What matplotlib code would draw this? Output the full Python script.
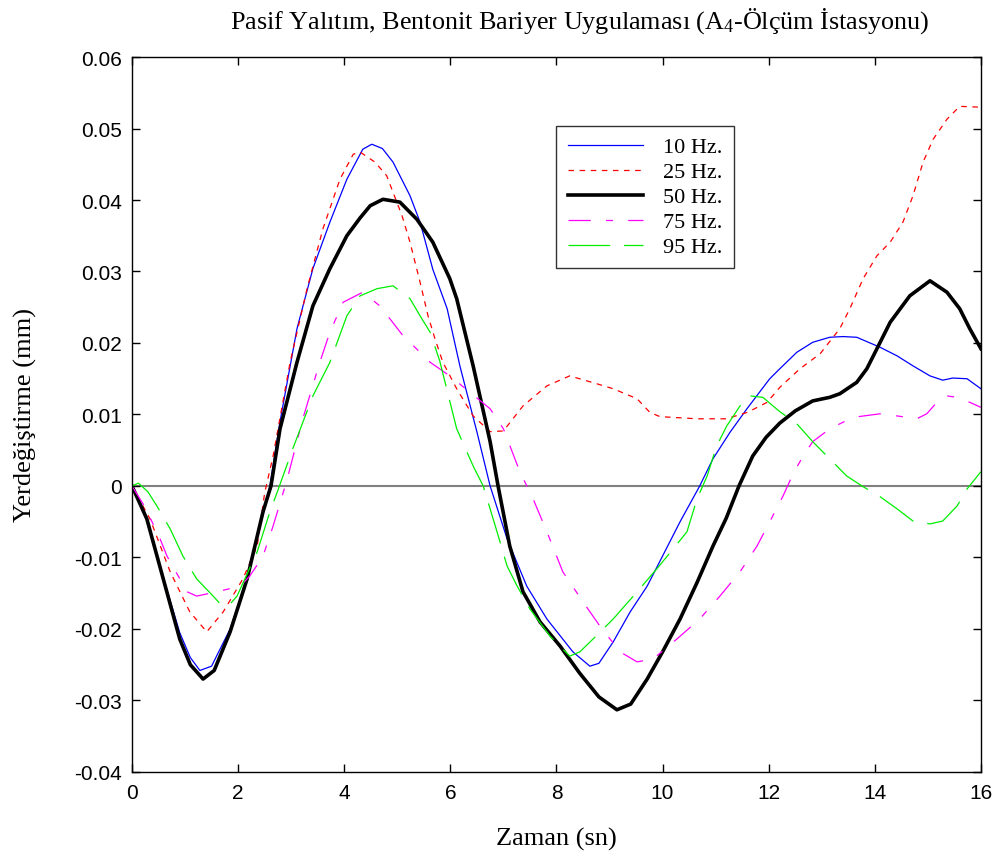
import numpy as np
import matplotlib
matplotlib.use('Agg')
import matplotlib.pyplot as plt

# time (s) / displacement (mm), one pair per frequency
t10 = [0, 0.28, 0.59, 0.9, 1.1, 1.28, 1.5, 1.85, 2.17, 2.47, 2.6, 2.79, 3.11, 3.41, 3.73, 4.05, 4.35,
       4.52, 4.72, 4.92, 5.24, 5.43, 5.67, 5.94, 6.18, 6.5, 6.75, 7.07, 7.44, 7.82, 8.31, 8.63, 8.8,
       9.07, 9.39, 9.71, 10.0, 10.33, 10.7, 10.95, 11.27, 11.59, 12.02, 12.21, 12.53, 12.83, 13.15,
       13.4, 13.66, 14.1, 14.42, 14.72, 15.04, 15.28, 15.47, 15.74, 16.0]
y10 = [0, -0.0046, -0.0128, -0.0205, -0.0240, -0.0258, -0.0252, -0.0200, -0.0128, -0.004, 0, 0.009,
       0.022, 0.0304, 0.0369, 0.0429, 0.0471, 0.0478, 0.0472, 0.0453, 0.0406, 0.0369, 0.0303, 0.0248,
       0.0168, 0.0076, 0, -0.0074, -0.014, -0.0186, -0.0232, -0.0252, -0.0248, -0.0218, -0.0176,
       -0.014, -0.0098, -0.005, 0, 0.0038, 0.0075, 0.0108, 0.015, 0.0164, 0.0187, 0.0201, 0.0208,
       0.0209, 0.0208, 0.0194, 0.0182, 0.0168, 0.0154, 0.0148, 0.0151, 0.015, 0.0136]

t25 = [0, 0.34, 0.72, 1.09, 1.41, 1.72, 2.09, 2.36, 2.5, 2.66, 2.98, 3.3, 3.6, 3.92, 4.17, 4.3, 4.58,
       4.8, 5.09, 5.24, 5.43, 5.58, 5.71, 5.86, 6.12, 6.43, 6.75, 7.0, 7.37, 7.82, 8.25, 8.76, 9.07,
       9.52, 9.76, 9.95, 10.65, 11.2, 11.6, 11.97, 12.21, 12.59, 12.97, 13.34, 13.53, 13.78, 14.04,
       14.29, 14.53, 14.72, 14.91, 15.1, 15.36, 15.6, 15.92, 16.0]
y25 = [0, -0.0046, -0.012, -0.0176, -0.0204, -0.0176, -0.013, -0.0084, -0.001, 0.0042, 0.0173,
       0.0276, 0.036, 0.0429, 0.0464, 0.0467, 0.0453, 0.0434, 0.0378, 0.0341, 0.0285, 0.0238, 0.0206,
       0.0173, 0.0136, 0.0098, 0.0076, 0.0077, 0.0112, 0.014, 0.0154, 0.0143, 0.0136, 0.0122, 0.0103,
       0.0097, 0.0094, 0.0094, 0.0103, 0.0117, 0.0138, 0.0164, 0.0185, 0.022, 0.0248, 0.029, 0.0322,
       0.0341, 0.0369, 0.0406, 0.0453, 0.0485, 0.0513, 0.0531, 0.053, 0.053]

t50 = [0, 0.28, 0.59, 0.9, 1.1, 1.34, 1.55, 1.85, 2.17, 2.47, 2.62, 2.79, 3.11, 3.41, 3.73, 4.05, 4.3,
       4.49, 4.73, 5.05, 5.37, 5.67, 5.99, 6.12, 6.43, 6.75, 6.9, 7.12, 7.37, 7.69, 8.07, 8.44, 8.8,
       9.14, 9.4, 9.71, 10.0, 10.33, 10.65, 10.95, 11.2, 11.44, 11.7, 11.95, 12.21, 12.5, 12.83, 13.15,
       13.34, 13.66, 13.85, 14.04, 14.29, 14.66, 15.04, 15.36, 15.6, 15.79, 16.0]
y50 = [0, -0.0046, -0.013, -0.0214, -0.0250, -0.027, -0.0258, -0.0204, -0.013, -0.0036, 0, 0.008,
       0.0173, 0.0252, 0.0304, 0.035, 0.0375, 0.0392, 0.0401, 0.0397, 0.0373, 0.0341, 0.029, 0.0262,
       0.0168, 0.0062, 0, -0.0084, -0.0148, -0.019, -0.0224, -0.0262, -0.0295, -0.0313, -0.0305,
       -0.027, -0.0232, -0.0186, -0.0135, -0.0084, -0.0045, 0, 0.0042, 0.0068, 0.0088, 0.0105, 0.0119,
       0.0124, 0.0129, 0.0145, 0.0164, 0.0192, 0.0229, 0.0266, 0.0287, 0.0271, 0.0248, 0.022, 0.0192]

t75 = [0, 0.25, 0.53, 0.66, 1.04, 1.22, 1.6, 2.04, 2.22, 2.47, 2.66, 2.92, 3.22, 3.54, 3.73, 3.98,
       4.35, 4.67, 4.86, 5.11, 5.43, 5.62, 5.99, 6.37, 6.75, 7.0, 7.31, 7.56, 7.82, 8.12, 8.5, 8.82,
       9.2, 9.52, 9.82, 10.27, 10.7, 11.08, 11.46, 11.78, 12.02, 12.27, 12.46, 12.65, 12.83, 13.15,
       13.59, 14.1, 14.42, 14.79, 14.98, 15.17, 15.36, 15.55, 15.79, 16.0]
y75 = [0, -0.003, -0.0074, -0.0098, -0.0148, -0.0154, -0.0148, -0.014, -0.0126, -0.0098, -0.0056,
       0.0008, 0.0094, 0.0173, 0.0215, 0.0257, 0.0271, 0.0252, 0.0234, 0.021, 0.0187, 0.0173, 0.0154,
       0.0131, 0.0108, 0.008, 0.002, -0.0018, -0.0064, -0.012, -0.0162, -0.0196, -0.0232, -0.0246,
       -0.0242, -0.0214, -0.0186, -0.0154, -0.012, -0.0084, -0.005, -0.0014, 0.0017, 0.0042, 0.0062,
       0.008, 0.0096, 0.0101, 0.0098, 0.0094, 0.0101, 0.0117, 0.0126, 0.0124, 0.0117, 0.011]

t95 = [0, 0.12, 0.3, 0.47, 0.72, 0.96, 1.22, 1.53, 1.7, 1.85, 1.98, 2.36, 2.6, 2.76, 3.03, 3.41, 3.73,
       4.05, 4.3, 4.62, 4.92, 5.24, 5.43, 5.62, 5.8, 6.12, 6.43, 6.62, 6.88, 7.07, 7.26, 7.5, 7.88,
       8.25, 8.44, 8.69, 9.07, 9.52, 9.89, 10.2, 10.46, 10.65, 10.84, 11.02, 11.21, 11.46, 11.65,
       11.89, 12.21, 12.53, 12.83, 13.15, 13.47, 13.78, 14.1, 14.42, 14.72, 15.04, 15.28, 15.55,
       15.74, 16.0]
y95 = [0, 0.0004, -0.0008, -0.0028, -0.006, -0.0098, -0.013, -0.0154, -0.0168, -0.0165, -0.0154,
       -0.0092, -0.0036, -0.0004, 0.0052, 0.0126, 0.0173, 0.0238, 0.0266, 0.0276, 0.028, 0.0262,
       0.0238, 0.0215, 0.0175, 0.008, 0.0028, 0, -0.0064, -0.0112, -0.014, -0.0172, -0.021, -0.0238,
       -0.0232, -0.0214, -0.0186, -0.0148, -0.0116, -0.0088, -0.0064, -0.0018, 0.0014, 0.0056, 0.0084,
       0.0112, 0.0126, 0.0124, 0.0104, 0.0087, 0.0062, 0.0038, 0.0014, -0.0001, -0.0015, -0.0032,
       -0.0049, -0.0053, -0.0049, -0.0028, -0.0004, 0.002]

labels = ['10 Hz.', '25 Hz.', '50 Hz.', '75 Hz.', '95 Hz.']

plt.rcParams['lines.scale_dashes'] = False
plt.rcParams['mathtext.default'] = 'regular'
serif = ['Liberation Serif', 'DejaVu Serif']
sans = ['Liberation Sans', 'DejaVu Sans']

fig = plt.figure(figsize=(9.99, 8.53), dpi=100)
ax = fig.add_axes([0.1321, 0.0938, 0.8498, 0.8382])

ax.axhline(0, color='#808080', lw=1.5, zorder=1)

ax.plot(t10, y10, color='blue', lw=0.9, label=labels[0])
ax.plot(t25, y25, color='red', lw=0.9, dashes=(4, 4), label=labels[1])
ax.plot(t50, y50, color='black', lw=2.6, label=labels[2])
ax.plot(t75, y75, color='magenta', lw=0.9, dashes=(16, 11, 5, 11), label=labels[3])
ax.plot(t95, y95, color='#00ee00', lw=0.9, dashes=(30, 10), label=labels[4])

ax.set_xlim(0, 16)
ax.set_ylim(-0.04, 0.06)
ax.set_xticks(np.arange(0, 17, 2))
ax.set_yticks(np.arange(-0.04, 0.0601, 0.01))
ax.set_yticklabels(['-0.04', '-0.03', '-0.02', '-0.01', '0', '0.01', '0.02', '0.03', '0.04', '0.05', '0.06'])
ax.tick_params(direction='in', top=True, right=True, length=6, width=1, labelsize=15)
ax.tick_params(axis='y', pad=7)
ax.tick_params(axis='x', pad=8)
for lab in ax.get_xticklabels() + ax.get_yticklabels():
    lab.set_family(sans)
for s in ax.spines.values():
    s.set_linewidth(1)

ax.set_xlabel('Zaman (sn)', fontfamily=serif, fontsize=19, labelpad=18)
ax.set_ylabel('Yerdeğiştirme (mm)', fontfamily=serif, fontsize=19, labelpad=27)
ax.set_title('Pasif Yalıtım, Bentonit Bariyer Uygulaması (A$_4$-Ölçüm İstasyonu)',
             fontfamily=serif, fontsize=18.8, pad=21, x=0.527)

leg = ax.legend(loc='upper left', bbox_to_anchor=(0.5, 0.904), prop={'family': serif, 'size': 16},
                handlelength=3.4, handletextpad=0.9, labelspacing=0.2, borderpad=0.5,
                borderaxespad=0, fancybox=False, frameon=True, edgecolor='black')
leg.get_frame().set_linewidth(1)

fig.savefig('out.png', dpi=100)
